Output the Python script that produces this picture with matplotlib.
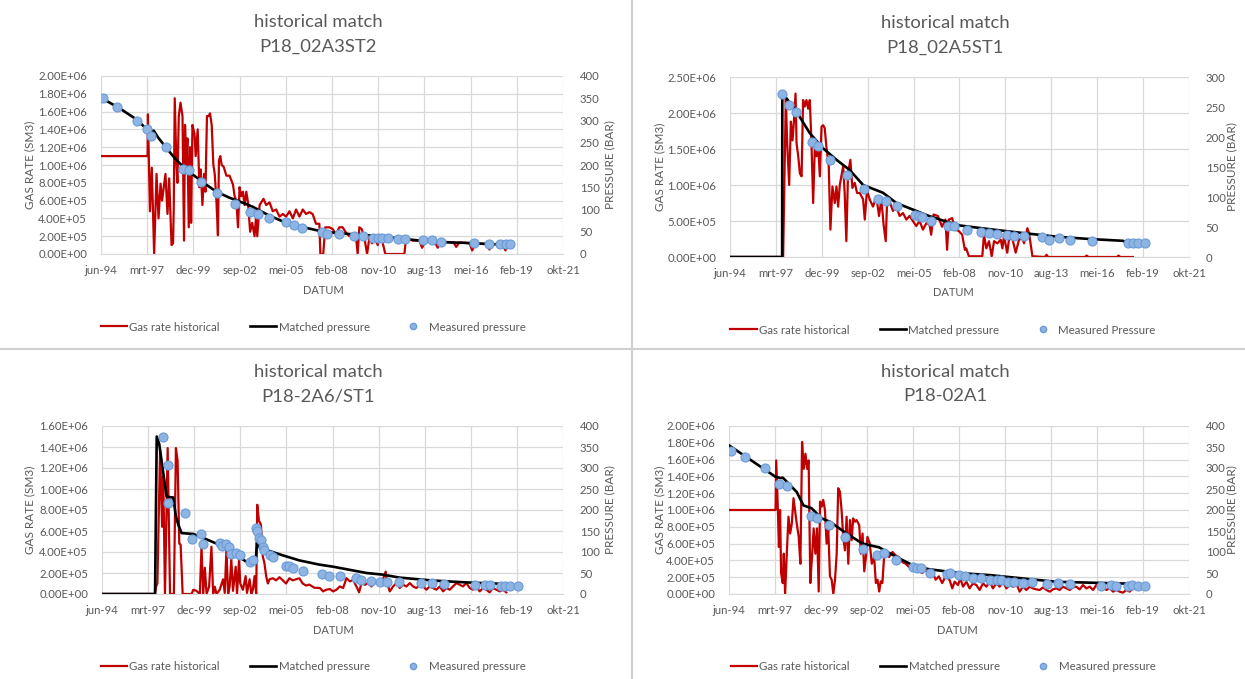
import numpy as np
import matplotlib.pyplot as plt
from matplotlib.lines import Line2D

plt.rcParams['font.family'] = ['Lato', 'DejaVu Sans']

W, H = 1245, 679
GREY = '#595959'
GRID = '#d9d9d9'
RED = '#c00000'
BLUE = '#8eb4e3'
BLUE_EDGE = '#6a9bd8'

# Excel date axis: major unit 1000 days starting jun-94
date_labels = ['jun-94', 'mrt-97', 'dec-99', 'sep-02', 'mei-05', 'feb-08',
               'nov-10', 'aug-13', 'mei-16', 'feb-19', 'okt-21']
x_start = 1994.42
x_step = 2.738

# ---- P18_02A3ST2 ---- (year, gas rate in 1e6 Sm3)
gas_a3 = [(1994.42, 1.10), (1997.18, 1.10), (1997.20, 1.57), (1997.32, 0.48), (1997.43, 0.97),
          (1997.57, 0.00), (1997.71, 0.90), (1997.83, 0.40), (1997.95, 0.79), (1998.04, 0.60),
          (1998.14, 0.75), (1998.24, 0.90), (1998.36, 0.45), (1998.46, 0.85), (1998.60, 0.10),
          (1998.69, 0.12), (1998.73, 0.50), (1998.79, 1.75), (1998.89, 1.00), (1998.95, 0.80),
          (1999.03, 1.55), (1999.13, 1.70), (1999.25, 1.55), (1999.34, 0.15), (1999.40, 1.45),
          (1999.48, 1.00), (1999.54, 1.30), (1999.62, 0.30), (1999.70, 1.20), (1999.76, 0.35),
          (1999.84, 1.45), (1999.96, 1.35), (2000.03, 1.10), (2000.15, 1.40), (2000.25, 0.75),
          (2000.33, 0.95), (2000.43, 0.55), (2000.53, 0.90), (2000.61, 0.70), (2000.70, 1.55),
          (2000.80, 1.55), (2000.88, 1.58), (2000.98, 1.45), (2001.08, 1.00), (2001.16, 0.90),
          (2001.26, 0.60), (2001.35, 0.21), (2001.41, 1.05), (2001.49, 1.10), (2001.57, 1.00),
          (2001.69, 0.98), (2001.85, 0.88), (2002.04, 0.88), (2002.24, 0.78), (2002.34, 0.65),
          (2002.44, 0.60), (2002.54, 0.30), (2002.63, 0.75), (2002.73, 0.65), (2002.83, 0.70),
          (2002.93, 0.55), (2003.03, 0.70), (2003.13, 0.58), (2003.26, 0.25), (2003.38, 0.35),
          (2003.52, 0.20), (2003.62, 0.45), (2003.68, 0.20), (2003.82, 0.55), (2004.05, 0.62),
          (2004.21, 0.55), (2004.41, 0.58), (2004.60, 0.48), (2004.80, 0.50), (2005.00, 0.42),
          (2005.20, 0.45), (2005.39, 0.42), (2005.59, 0.48), (2005.79, 0.40), (2005.98, 0.50),
          (2006.18, 0.42), (2006.38, 0.50), (2006.57, 0.45), (2006.77, 0.47), (2006.96, 0.45),
          (2007.16, 0.34), (2007.36, 0.34), (2007.42, 0.00), (2007.59, 0.00), (2007.71, 0.30),
          (2007.95, 0.30), (2008.15, 0.28), (2008.35, 0.22), (2008.54, 0.30), (2008.74, 0.30),
          (2008.94, 0.24), (2009.14, 0.20), (2009.33, 0.22), (2009.53, 0.20), (2009.63, 0.00),
          (2009.73, 0.30), (2009.87, 0.28), (2010.03, 0.18), (2010.19, 0.00), (2010.32, 0.18),
          (2010.48, 0.12), (2010.62, 0.20), (2010.82, 0.10), (2010.96, 0.20), (2011.12, 0.12),
          (2011.27, 0.00), (2012.40, 0.00), (2012.50, 0.18), (2012.90, 0.15), (2013.29, 0.15),
          (2013.45, 0.07), (2013.65, 0.15), (2014.18, 0.14), (2014.38, 0.07), (2014.58, 0.14),
          (2015.31, 0.13), (2015.47, 0.08), (2015.66, 0.13), (2016.26, 0.12), (2016.42, 0.04),
          (2016.61, 0.12), (2017.25, 0.11), (2017.44, 0.05), (2017.64, 0.11), (2018.23, 0.10),
          (2018.39, 0.04), (2018.53, 0.10)]
matched_a3 = [(1994.42, 351), (1995.5, 328), (1996.5, 303), (1997.12, 281), (1997.3, 276),
              (1997.55, 277), (1997.8, 262), (1998.30, 238), (1998.8, 215), (1999.29, 196),
              (1999.88, 178), (2000.5, 160), (2001.26, 140), (2002.0, 127), (2002.63, 118),
              (2003.42, 106), (2004.3, 88), (2005.20, 73), (2006.2, 62), (2007.36, 52),
              (2008.15, 48), (2009.1, 45), (2010.13, 42.5), (2011.1, 39), (2012.10, 35),
              (2013.1, 31), (2014.08, 27.6), (2015.1, 26), (2016.06, 25), (2017.64, 22),
              (2018.04, 22)]
measured_a3 = [(1994.56, 351), (1995.35, 331), (1996.53, 300), (1997.12, 280), (1997.41, 265),
               (1998.30, 240), (1999.29, 190), (1999.64, 189), (2000.37, 162), (2001.32, 138),
               (2002.34, 112), (2003.26, 94), (2003.72, 91), (2004.37, 82), (2005.39, 71),
               (2005.83, 65), (2006.34, 59), (2007.52, 50), (2007.79, 46), (2008.50, 45),
               (2009.43, 40), (2009.93, 40), (2010.52, 37), (2010.82, 36.6), (2011.08, 36.5),
               (2011.41, 36), (2012.0, 33), (2012.46, 33), (2013.49, 30.6), (2014.04, 30.5),
               (2014.56, 28), (2016.53, 25), (2017.44, 23), (2018.04, 23), (2018.43, 23),
               (2018.67, 23)]

# ---- P18_02A5ST1 ----
gas_a5 = [(1994.42, 0.0), (1997.59, 0.0), (1997.75, 2.22), (1997.83, 1.58), (1997.95, 1.00),
          (1998.05, 1.88), (1998.15, 1.62), (1998.23, 1.88), (1998.33, 2.27), (1998.39, 1.58),
          (1998.49, 1.40), (1998.59, 1.16), (1998.69, 1.12), (1998.78, 2.18), (1998.88, 2.09),
          (1998.98, 2.18), (1999.08, 2.06), (1999.18, 2.18), (1999.28, 1.58), (1999.38, 0.75),
          (1999.48, 1.53), (1999.58, 1.40), (1999.68, 1.53), (1999.78, 1.12), (1999.88, 1.81),
          (1999.98, 1.83), (2000.07, 1.79), (2000.17, 1.53), (2000.31, 1.26), (2000.41, 0.38),
          (2000.53, 0.98), (2000.67, 0.75), (2000.77, 0.98), (2000.87, 0.70), (2000.97, 1.00),
          (2001.17, 1.26), (2001.26, 0.89), (2001.36, 0.22), (2001.46, 1.16), (2001.60, 1.35),
          (2001.72, 0.96), (2001.86, 1.03), (2002.00, 0.89), (2002.16, 0.89), (2002.36, 0.80),
          (2002.46, 0.52), (2002.59, 0.93), (2002.75, 0.80), (2002.95, 0.70), (2003.15, 0.84),
          (2003.31, 0.57), (2003.45, 0.80), (2003.59, 0.43), (2003.71, 0.22), (2003.78, 0.70),
          (2003.94, 0.77), (2004.14, 0.64), (2004.34, 0.70), (2004.54, 0.57), (2004.74, 0.61),
          (2004.94, 0.52), (2005.13, 0.57), (2005.33, 0.50), (2005.53, 0.43), (2005.73, 0.50),
          (2005.93, 0.38), (2006.13, 0.47), (2006.32, 0.45), (2006.42, 0.31), (2006.56, 0.59),
          (2006.82, 0.57), (2007.07, 0.42), (2007.27, 0.52), (2007.37, 0.10), (2007.47, 0.52),
          (2007.67, 0.54), (2007.87, 0.38), (2008.07, 0.36), (2008.27, 0.31), (2008.43, 0.10),
          (2008.51, 0.12), (2008.67, 0.01), (2009.47, 0.01), (2009.57, 0.31), (2009.71, 0.12),
          (2009.87, 0.22), (2010.03, 0.01), (2010.17, 0.22), (2010.37, 0.19), (2010.57, 0.24),
          (2010.67, 0.12), (2010.76, 0.29), (2010.96, 0.06), (2011.06, 0.24), (2011.26, 0.26),
          (2011.46, 0.06), (2011.66, 0.24), (2011.86, 0.26), (2011.96, 0.19), (2012.16, 0.40),
          (2012.26, 0.33), (2012.46, 0.01), (2013.2, 0.0), (2013.3, 0.03), (2013.4, 0.0),
          (2015.6, 0.0), (2015.7, 0.02), (2015.8, 0.0), (2017.5, 0.0), (2017.6, 0.02),
          (2017.7, 0.0), (2018.45, 0.0)]
matched_a5 = [(1994.42, 0), (1997.53, 0), (1997.54, 272), (1997.8, 264), (1998.39, 242),
              (1999.19, 206), (1999.98, 181), (2000.77, 162), (2001.56, 145), (2002.36, 120),
              (2003.55, 107), (2004.34, 90), (2005.33, 79), (2006.32, 68), (2007.32, 59),
              (2008.11, 52.6), (2009.87, 46.5), (2011.86, 40), (2013.86, 34), (2015.85, 30),
              (2017.85, 27), (2017.95, 26)]
measured_a5 = [(1997.50, 271), (1997.95, 254), (1998.33, 242), (1999.34, 191), (1999.68, 185),
               (2000.41, 161), (2001.40, 136), (2002.40, 113), (2003.25, 97), (2003.71, 93.4),
               (2004.40, 84.5), (2005.43, 70.7), (2005.69, 68), (2005.89, 66), (2006.42, 60),
               (2007.42, 51.4), (2007.77, 51), (2008.57, 45), (2009.37, 41.5), (2009.87, 40),
               (2010.37, 38.7), (2010.96, 37), (2011.36, 35.4), (2011.96, 34.3), (2013.06, 33.2),
               (2013.46, 28.8), (2014.06, 31), (2014.70, 28.2), (2016.01, 26), (2018.15, 23.2),
               (2018.45, 23.2), (2018.75, 23.2), (2019.15, 22.7)]

# ---- P18-2A6/ST1 ----
gas_a6 = [(1994.42, 0.0), (1997.57, 0.0), (1997.63, 0.07), (1997.71, 0.10), (1997.87, 1.37),
          (1997.99, 0.64), (1998.06, 1.12), (1998.16, 0.0), (1998.32, 1.39), (1998.38, 0.80),
          (1998.46, 0.0), (1998.69, 0.0), (1998.81, 1.39), (1998.91, 1.27), (1999.01, 0.48),
          (1999.09, 0.47), (1999.21, 0.0), (1999.74, 0.0), (1999.84, 0.04), (2000.03, 0.03),
          (2000.23, 0.0), (2000.33, 0.45), (2000.43, 0.0), (2000.53, 0.25), (2000.63, 0.0),
          (2000.78, 0.07), (2000.92, 0.45), (2001.02, 0.0), (2001.12, 0.07), (2001.22, 0.0),
          (2001.41, 0.04), (2001.61, 0.14), (2001.71, 0.01), (2001.81, 0.42), (2001.91, 0.0),
          (2002.00, 0.07), (2002.10, 0.33), (2002.20, 0.03), (2002.36, 0.26), (2002.44, 0.0),
          (2002.56, 0.33), (2002.63, 0.10), (2002.79, 0.04), (2002.95, 0.17), (2003.03, 0.01),
          (2003.19, 0.14), (2003.29, 0.0), (2003.38, 0.04), (2003.48, 0.17), (2003.58, 0.0),
          (2003.64, 0.85), (2003.74, 0.70), (2003.86, 0.66), (2003.97, 0.36), (2004.07, 0.29),
          (2004.17, 0.17), (2004.27, 0.10), (2004.37, 0.14), (2004.56, 0.15), (2004.76, 0.13),
          (2004.96, 0.16), (2005.16, 0.13), (2005.35, 0.10), (2005.55, 0.15), (2005.75, 0.13),
          (2005.94, 0.14), (2006.14, 0.15), (2006.34, 0.10), (2006.54, 0.08), (2006.73, 0.09),
          (2007.03, 0.06), (2007.36, 0.057), (2007.55, 0.025), (2007.75, 0.041), (2007.95, 0.047),
          (2008.15, 0.025), (2008.35, 0.041), (2008.54, 0.072), (2008.74, 0.057), (2008.94, 0.151),
          (2009.14, 0.12), (2009.33, 0.135), (2009.53, 0.072), (2009.69, 0.016), (2009.83, 0.104),
          (2010.03, 0.088), (2010.22, 0.104), (2010.42, 0.072), (2010.62, 0.104), (2010.82, 0.12),
          (2011.02, 0.104), (2011.27, 0.214), (2011.35, 0.104), (2011.51, 0.025), (2011.71, 0.072),
          (2011.91, 0.104), (2012.10, 0.057), (2012.30, 0.088), (2012.50, 0.072), (2012.70, 0.104),
          (2012.90, 0.072), (2013.09, 0.057), (2013.29, 0.088), (2013.49, 0.072), (2013.69, 0.041),
          (2013.88, 0.072), (2014.08, 0.057), (2014.28, 0.041), (2014.48, 0.072), (2014.68, 0.025),
          (2014.87, 0.057), (2015.07, 0.041), (2015.27, 0.072), (2015.47, 0.104), (2015.66, 0.088),
          (2015.86, 0.072), (2016.06, 0.104), (2016.26, 0.057), (2016.46, 0.041), (2016.65, 0.072),
          (2016.85, 0.025), (2017.05, 0.057), (2017.25, 0.041), (2017.44, 0.016), (2017.64, 0.057),
          (2017.84, 0.041), (2018.04, 0.025), (2018.24, 0.041), (2018.43, 0.016)]
matched_a6 = [(1994.42, 0), (1997.57, 0), (1997.67, 375), (1997.82, 357), (1998.06, 288),
              (1998.26, 232), (1998.55, 230), (1998.65, 230), (1998.81, 185), (1998.95, 165),
              (1999.15, 145), (1999.84, 143), (2000.23, 137), (2001.22, 120), (2002.20, 97),
              (2002.99, 77), (2003.54, 72), (2003.62, 122), (2003.74, 112), (2004.17, 105),
              (2005.16, 92), (2006.14, 80), (2007.32, 70), (2008.15, 65), (2010.13, 50),
              (2011.12, 46), (2012.10, 39), (2014.08, 32), (2016.06, 27.6), (2018.04, 24.4)]
measured_a6 = [(1998.02, 374), (1998.36, 308), (1998.36, 217), (1999.35, 192), (1999.74, 130),
               (2000.29, 143), (2000.39, 119), (2001.41, 122), (2001.57, 115), (2001.81, 119),
               (2001.97, 113), (2002.06, 96), (2002.36, 97), (2002.63, 92), (2003.19, 77),
               (2003.38, 80), (2003.58, 157), (2003.64, 151), (2003.74, 134), (2003.88, 129),
               (2003.97, 113), (2004.07, 105), (2004.41, 92), (2004.56, 88), (2005.35, 67),
               (2005.55, 66), (2005.79, 63), (2006.34, 54), (2007.46, 47), (2007.91, 44),
               (2008.55, 44), (2009.49, 38), (2009.83, 34), (2010.42, 30), (2010.96, 28),
               (2011.35, 28), (2012.07, 27.5), (2013.39, 26), (2014.02, 26), (2014.72, 24.4),
               (2016.56, 20.5), (2017.15, 20.5), (2017.49, 20.5), (2018.14, 19.7),
               (2018.34, 19.7), (2018.67, 19.7), (2019.13, 19.7)]

# ---- P18-02A1 ----
gas_a1 = [(1994.42, 1.00), (1997.19, 1.00), (1997.23, 1.59), (1997.33, 1.00), (1997.39, 0.56),
          (1997.46, 1.00), (1997.52, 0.25), (1997.62, 0.13), (1997.68, 0.48), (1997.76, 0.00),
          (1997.86, 0.48), (1997.96, 0.92), (1998.06, 0.72), (1998.16, 0.84), (1998.26, 1.14),
          (1998.35, 1.00), (1998.45, 0.84), (1998.57, 0.68), (1998.67, 0.36), (1998.77, 1.81),
          (1998.87, 1.49), (1998.97, 1.67), (1999.07, 1.49), (1999.16, 1.59), (1999.26, 0.13),
          (1999.36, 0.44), (1999.46, 0.78), (1999.56, 0.48), (1999.66, 0.78), (1999.76, 0.03),
          (1999.84, 1.10), (1999.94, 1.04), (2000.03, 1.12), (2000.13, 1.00), (2000.23, 0.60),
          (2000.33, 0.76), (2000.43, 0.21), (2000.53, 0.17), (2000.63, 0.00), (2000.73, 0.17),
          (2000.83, 0.48), (2000.92, 1.26), (2001.02, 1.22), (2001.12, 1.00), (2001.22, 0.68),
          (2001.32, 0.52), (2001.42, 0.92), (2001.52, 0.36), (2001.62, 0.88), (2001.72, 0.64),
          (2001.81, 0.90), (2001.91, 0.86), (2002.01, 0.88), (2002.17, 0.82), (2002.27, 0.48),
          (2002.37, 0.72), (2002.47, 0.27), (2002.57, 0.44), (2002.66, 0.68), (2002.80, 0.60),
          (2002.92, 0.36), (2003.06, 0.44), (2003.16, 0.13), (2003.26, 0.17), (2003.36, 0.03),
          (2003.45, 0.15), (2003.55, 0.13), (2003.65, 0.44), (2003.75, 0.48), (2003.95, 0.44),
          (2004.15, 0.50), (2004.34, 0.46), (2004.54, 0.44), (2004.74, 0.38), (2004.94, 0.36),
          (2005.14, 0.32), (2005.33, 0.29), (2005.53, 0.30), (2005.73, 0.27), (2005.93, 0.25),
          (2006.12, 0.29), (2006.32, 0.23), (2006.52, 0.27), (2006.72, 0.17), (2006.91, 0.21),
          (2007.11, 0.13), (2007.31, 0.21), (2007.55, 0.166), (2007.71, 0.067), (2007.85, 0.147),
          (2008.05, 0.107), (2008.19, 0.186), (2008.35, 0.087), (2008.55, 0.147), (2008.74, 0.067),
          (2008.94, 0.127), (2009.14, 0.107), (2009.34, 0.048), (2009.54, 0.127), (2009.74, 0.087),
          (2009.94, 0.147), (2010.13, 0.067), (2010.33, 0.127), (2010.53, 0.087), (2010.73, 0.147),
          (2010.93, 0.067), (2011.13, 0.107), (2011.32, 0.087), (2011.52, 0.127), (2011.72, 0.028),
          (2011.92, 0.087), (2012.12, 0.048), (2012.32, 0.087), (2012.51, 0.067), (2012.71, 0.055),
          (2012.91, 0.048), (2013.11, 0.079), (2013.31, 0.048), (2013.51, 0.028), (2013.70, 0.055),
          (2013.90, 0.067), (2014.10, 0.048), (2014.30, 0.087), (2014.50, 0.067), (2014.70, 0.048),
          (2014.90, 0.079), (2015.09, 0.087), (2015.29, 0.055), (2015.49, 0.107), (2015.69, 0.067),
          (2015.89, 0.087), (2016.09, 0.048), (2016.28, 0.107), (2016.48, 0.067), (2016.68, 0.087),
          (2016.88, 0.048), (2017.08, 0.067), (2017.28, 0.028), (2017.47, 0.048), (2017.67, 0.028),
          (2017.87, 0.016), (2018.07, 0.048), (2018.27, 0.028), (2018.47, 0.067)]
matched_a1 = [(1994.42, 354), (1997.19, 279), (1997.5, 276), (1997.62, 277), (1998.06, 259),
              (1998.45, 243), (1998.85, 211), (1999.34, 204), (1999.94, 180), (2000.43, 172),
              (2001.42, 144), (2002.37, 120), (2003.36, 111), (2004.34, 89), (2005.33, 69),
              (2006.32, 59), (2007.51, 53), (2008.11, 50), (2009.94, 45), (2011.92, 37),
              (2013.90, 29), (2015.89, 27), (2017.87, 25), (2018.07, 25)]
measured_a1 = [(1994.56, 341), (1995.35, 326), (1996.54, 301), (1997.42, 261), (1997.86, 257),
               (1999.30, 185), (1999.66, 180), (2000.39, 164), (2001.34, 135), (2002.37, 106),
               (2003.20, 94), (2003.65, 97), (2004.34, 82), (2005.37, 65), (2005.63, 63),
               (2005.83, 61), (2006.36, 51), (2007.41, 47), (2007.55, 49), (2008.11, 46),
               (2008.45, 43.6), (2008.94, 37), (2009.44, 37), (2009.94, 33), (2010.37, 33),
               (2010.63, 33), (2011.03, 29), (2011.36, 28), (2011.92, 27), (2012.47, 29),
               (2013.35, 24), (2014.0, 27), (2014.74, 24), (2016.58, 20), (2017.18, 21),
               (2017.47, 19), (2018.17, 19), (2018.43, 20.6), (2018.76, 19), (2019.16, 19)]


def px(x, y):
    return x / W, 1 - y / H


def draw_panel(fig, box, title, gas, matched, measured, gas_max, gas_step,
               p_max, p_step, meas_label, title_xy, datum_xy, legend_xy, ylab_x):
    left, top, right, bottom = box
    ax = fig.add_axes([left / W, 1 - bottom / H, (right - left) / W, (bottom - top) / H])
    ax2 = ax.twinx()

    t, q = zip(*gas)
    ax.plot(t, np.array(q) * 1e6, color=RED, lw=1.6, zorder=2)
    t, p = zip(*matched)
    ax2.plot(t, p, color='black', lw=1.9, zorder=3)
    t, p = zip(*measured)
    ax2.plot(t, p, 'o', ms=6.5, mfc=BLUE, mec=BLUE_EDGE, mew=0.8, zorder=4)

    x_ticks = x_start + x_step * np.arange(len(date_labels))
    ax.set_xlim(x_ticks[0], x_ticks[-1])
    ax.set_xticks(x_ticks)
    ax.set_xticklabels(date_labels)
    ax.set_ylim(0, gas_max)
    ax.set_yticks(np.arange(0, gas_max + gas_step / 2, gas_step))
    ax.yaxis.set_major_formatter(plt.FuncFormatter(lambda v, _: f'{v:.2E}'))
    ax2.set_ylim(0, p_max)
    ax2.set_yticks(np.arange(0, p_max + 1, p_step))

    ax.grid(color=GRID, lw=0.9)
    ax.set_axisbelow(True)
    for a in (ax, ax2):
        for s in a.spines.values():
            s.set_visible(False)
        a.tick_params(length=0, labelsize=8.2, labelcolor=GREY)
    ax.spines['bottom'].set_visible(True)
    ax.spines['bottom'].set_color(GRID)
    ax.tick_params(axis='y', pad=10)
    ax.tick_params(axis='x', pad=8)
    ax2.tick_params(axis='y', pad=12)

    cx, y1, y2 = title_xy
    fig.text(*px(cx, y1), 'historical match', ha='center', va='center', fontsize=13.3, color=GREY)
    fig.text(*px(cx, y2), title, ha='center', va='center', fontsize=13.3, color=GREY)
    fig.text(*px(*datum_xy), 'DATUM', ha='center', va='center', fontsize=8, color=GREY)
    ymid = (top + bottom) / 2
    fig.text(*px(ylab_x[0], ymid), 'GAS RATE (SM3)', rotation=90, ha='center', va='center',
             fontsize=8.5, color=GREY)
    fig.text(*px(ylab_x[1], ymid), 'PRESSURE (BAR)', rotation=90, ha='center', va='center',
             fontsize=8.5, color=GREY)

    handles = [Line2D([], [], color=RED, lw=1.6),
               Line2D([], [], color='black', lw=1.9),
               Line2D([], [], ls='none', marker='o', ms=4.5, mfc=BLUE, mec=BLUE_EDGE)]
    fig.legend(handles, ['Gas rate historical', 'Matched pressure', meas_label],
               loc='center', bbox_to_anchor=px(*legend_xy), ncol=3, frameon=False,
               fontsize=8.3, labelcolor=GREY, handlelength=2.3, handletextpad=0.2,
               columnspacing=2.6)


fig = plt.figure(figsize=(W / 100, H / 100), dpi=100)

draw_panel(fig, (101, 76, 563, 254), 'P18_02A3ST2', gas_a3, matched_a3, measured_a3,
           2.0e6, 2.0e5, 400, 50, 'Measured pressure',
           (318, 22, 47), (323, 290), (313, 327), (30, 610))
draw_panel(fig, (730, 77, 1189, 257), 'P18_02A5ST1', gas_a5, matched_a5, measured_a5,
           2.5e6, 5.0e5, 300, 50, 'Measured Pressure',
           (945, 23, 48), (953, 293), (943, 330), (660, 1232))
draw_panel(fig, (102, 426, 563, 594), 'P18-2A6/ST1', gas_a6, matched_a6, measured_a6,
           1.6e6, 2.0e5, 400, 50, 'Measured pressure',
           (318, 372, 396), (333, 631), (313, 667), (30, 610))
draw_panel(fig, (729, 426, 1189, 594), 'P18-02A1', gas_a1, matched_a1, measured_a1,
           2.0e6, 2.0e5, 400, 50, 'Measured pressure',
           (945, 372, 396), (957, 631), (943, 667), (660, 1232))

# panel separators
fig.add_artist(Line2D([632 / W, 632 / W], [0, 1], transform=fig.transFigure, color='#d0d0d0', lw=1.5))
fig.add_artist(Line2D([0, 1], [1 - 349 / H, 1 - 349 / H], transform=fig.transFigure, color='#d0d0d0', lw=1.5))

fig.savefig('out.png', dpi=100)
